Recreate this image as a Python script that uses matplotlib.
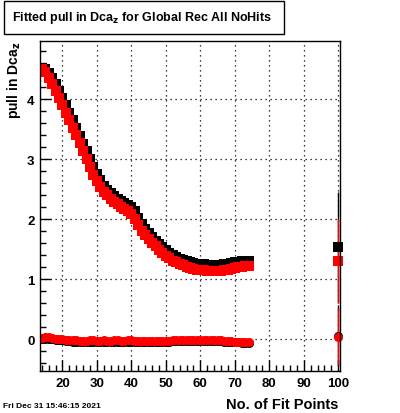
import numpy as np
import matplotlib

matplotlib.use("Agg")
import matplotlib.pyplot as plt
from matplotlib.patches import Rectangle
from matplotlib.ticker import MultipleLocator

plt.rcParams["font.family"] = ["Liberation Sans", "DejaVu Sans"]
plt.rcParams["font.weight"] = "bold"
plt.rcParams["mathtext.default"] = "bf"

# --- datos ---
n_fit = np.arange(14, 75)

sigma_red = [4.50, 4.45, 4.36, 4.25, 4.14, 4.02, 3.90, 3.77, 3.65, 3.52,
             3.40, 3.27, 3.14, 3.00, 2.87, 2.74, 2.63, 2.54, 2.46, 2.40,
             2.34, 2.29, 2.25, 2.21, 2.17, 2.13, 2.09, 2.00, 1.90, 1.81,
             1.74, 1.67, 1.61, 1.55, 1.49, 1.44, 1.39, 1.35, 1.31, 1.28,
             1.25, 1.23, 1.21, 1.19, 1.17, 1.16, 1.15, 1.15, 1.14, 1.14,
             1.14, 1.14, 1.14, 1.15, 1.16, 1.17, 1.18, 1.20, 1.21, 1.22,
             1.22]

sigma_black = [4.52, 4.50, 4.44, 4.35, 4.25, 4.14, 4.02, 3.90, 3.77, 3.65,
               3.52, 3.39, 3.26, 3.13, 3.00, 2.87, 2.75, 2.65, 2.56, 2.49,
               2.43, 2.38, 2.34, 2.30, 2.27, 2.24, 2.21, 2.13, 2.02, 1.92,
               1.84, 1.77, 1.70, 1.64, 1.58, 1.53, 1.48, 1.44, 1.40, 1.37,
               1.34, 1.32, 1.30, 1.28, 1.27, 1.26, 1.25, 1.25, 1.24, 1.24,
               1.24, 1.24, 1.24, 1.25, 1.26, 1.27, 1.28, 1.29, 1.30, 1.30,
               1.30]

mean_red = [0.02, 0.03, 0.03, 0.02, 0.01, 0.00, 0.00, -0.01, -0.01, -0.02,
            -0.02, -0.03, -0.03, -0.03, -0.02, -0.02, -0.03, -0.03, -0.02, -0.03,
            -0.03, -0.02, -0.02, -0.03, -0.03, -0.02, -0.02, -0.03, -0.03, -0.03,
            -0.03, -0.03, -0.03, -0.03, -0.03, -0.03, -0.03, -0.03, -0.02, -0.02,
            -0.02, -0.02, -0.02, -0.02, -0.02, -0.02, -0.02, -0.02, -0.02, -0.02,
            -0.02, -0.02, -0.02, -0.03, -0.03, -0.03, -0.04, -0.04, -0.05, -0.05,
            -0.05]

mean_black = [0.00, 0.01, 0.01, 0.00, -0.01, -0.02, -0.02, -0.03, -0.03, -0.04,
              -0.04, -0.05, -0.05, -0.05, -0.04, -0.04, -0.05, -0.05, -0.04, -0.05,
              -0.05, -0.04, -0.04, -0.05, -0.05, -0.04, -0.04, -0.04, -0.04, -0.04,
              -0.04, -0.04, -0.04, -0.04, -0.04, -0.04, -0.04, -0.04, -0.03, -0.03,
              -0.03, -0.03, -0.03, -0.03, -0.03, -0.03, -0.03, -0.03, -0.03, -0.03,
              -0.03, -0.03, -0.03, -0.04, -0.04, -0.04, -0.05, -0.05, -0.06, -0.06,
              -0.06]

# bin global (todos los puntos de ajuste)
x_all = 100
sig_black_all, sig_black_err = 1.53, 0.92
sig_red_all, sig_red_err = 1.30, 0.70
mean_black_all, mean_black_err = 0.05, 0.50
mean_red_all, mean_red_err = 0.045, 0.47

fig = plt.figure(figsize=(4.0, 4.14), dpi=100)
ax = fig.add_axes([0.1, 0.1014, 0.75, 0.797])

sq = dict(marker="s", ms=7.3, ls="none", mew=0)
ax.plot(n_fit, sigma_black, color="black", **sq)
ax.plot(n_fit, sigma_red, color="red", **sq)
ax.plot(n_fit, mean_black, color="black", marker="o", ms=6.5, ls="none", mew=0)
ax.plot(n_fit, mean_red, color="red", marker="o", ms=6.5, ls="none", mew=0)

overall = [
    (sig_black_all, sig_black_err, "black", "s", 7.3),
    (mean_black_all, mean_black_err, "black", "o", 6.5),
    (sig_red_all, sig_red_err, "red", "s", 7.3),
    (mean_red_all, mean_red_err, "red", "o", 6.5),
]
for y, err, c, m, ms in overall:
    cont = ax.errorbar([x_all], [y], yerr=[err], color=c, marker=m, ms=ms,
                       mew=0, elinewidth=1, capsize=0)
    for art in cont.get_children():
        art.set_clip_on(False)

ax.set_xlim(13.5, 100.5)
ax.set_ylim(-0.53, 4.97)
ax.xaxis.set_major_locator(MultipleLocator(10))
ax.xaxis.set_minor_locator(MultipleLocator(2))
ax.yaxis.set_major_locator(MultipleLocator(1))
ax.yaxis.set_minor_locator(MultipleLocator(0.2))
ax.tick_params(which="both", direction="in", top=False, right=False,
               width=1, labelsize=9.5)
ax.tick_params(which="major", length=8, pad=4)
ax.tick_params(which="minor", length=4.5)
for lab in ax.get_xticklabels() + ax.get_yticklabels():
    lab.set_fontweight("bold")
ax.grid(True, which="major", color="black", ls=(0, (1, 3)), lw=0.9)
for sp in ax.spines.values():
    sp.set_linewidth(1.0)

# caja de título estilo ROOT
fig.add_artist(Rectangle((0.01, 0.9155), 0.70, 0.0797, transform=fig.transFigure,
                         fill=False, edgecolor="black", lw=1.0))
fig.text(0.355, 0.957, "Fitted pull in Dca$_{z}$ for Global Rec All NoHits",
         ha="center", va="center", fontsize=9, fontweight="bold")

fig.text(0.035, 0.90, "pull in Dca$_{z}$", rotation=90, ha="center", va="top",
         fontsize=10, fontweight="bold")
fig.text(0.845, 0.022, "No. of Fit Points", ha="right", va="center",
         fontsize=10.5, fontweight="bold")
fig.text(0.008, 0.019, "Fri Dec 31 15:46:15 2021", ha="left", va="center",
         fontsize=6, fontweight="bold")

fig.savefig("out.png", dpi=100)
